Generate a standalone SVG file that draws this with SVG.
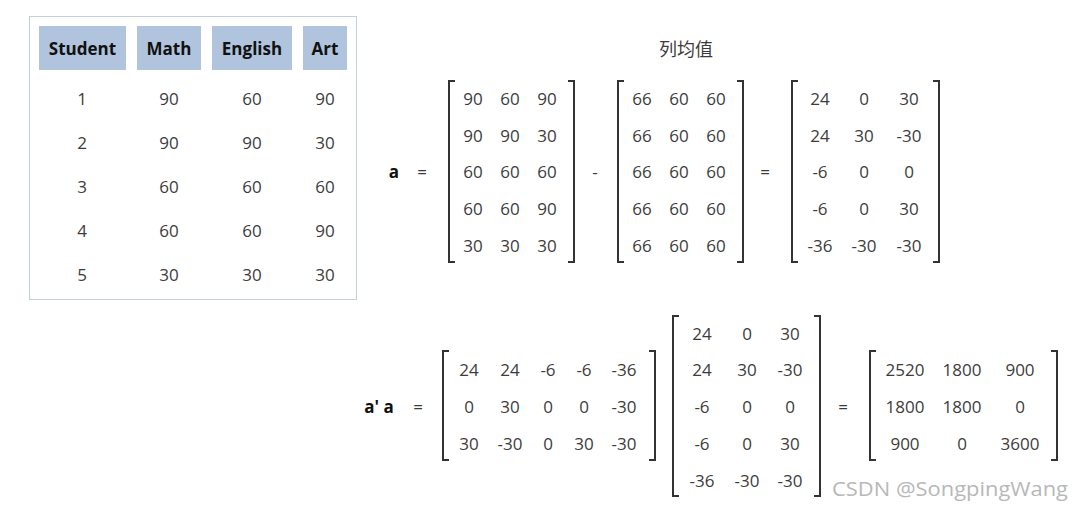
<svg xmlns="http://www.w3.org/2000/svg" width="1082" height="509" viewBox="0 0 1082 509">
<style>
text{font-family:"Open Sans","Noto Sans","DejaVu Sans",sans-serif;font-size:17px;fill:#3c3c3c;text-anchor:middle;dominant-baseline:central}
.h{font-weight:bold;fill:#111;font-size:17px}
.b{font-weight:bold;fill:#111}
.cell{fill:#b0c4de}
.br{fill:none;stroke:#333;stroke-width:2}
.wm{fill:#b8b8b8;font-size:20px}
</style>
<rect width="1082" height="509" fill="#fff"/>
<g id="table">
<rect x="29.5" y="16.5" width="327" height="283" fill="#fff" stroke="#c5cde0"/>
<rect class="cell" x="39" y="26" width="87" height="44"/>
<rect class="cell" x="137" y="26" width="64" height="44"/>
<rect class="cell" x="212" y="26" width="80" height="44"/>
<rect class="cell" x="303" y="26" width="44" height="44"/>
<text class="h" x="82.5" y="48">Student</text>
<text class="h" x="169" y="48">Math</text>
<text class="h" x="252" y="48">English</text>
<text class="h" x="325" y="48">Art</text>
<text x="82" y="98">1</text><text x="169" y="98">90</text><text x="252" y="98">60</text><text x="325" y="98">90</text>
<text x="82" y="142">2</text><text x="169" y="142">90</text><text x="252" y="142">90</text><text x="325" y="142">30</text>
<text x="82" y="186">3</text><text x="169" y="186">60</text><text x="252" y="186">60</text><text x="325" y="186">60</text>
<text x="82" y="230">4</text><text x="169" y="230">60</text><text x="252" y="230">60</text><text x="325" y="230">90</text>
<text x="82" y="274">5</text><text x="169" y="274">30</text><text x="252" y="274">30</text><text x="325" y="274">30</text>
</g>
<g id="title"><text x="686" y="48" style="font-family:'Noto Sans CJK SC',sans-serif;font-size:18px">列均值</text></g>
<g id="eq1">
<text class="b" x="394" y="171">a</text>
<text x="422" y="171">=</text>
<path class="br" d="M455 81H449V262H455M568 81H574V262H568"/>
<text x="473" y="98">90</text><text x="510" y="98">60</text><text x="547" y="98">90</text>
<text x="473" y="135">90</text><text x="510" y="135">90</text><text x="547" y="135">30</text>
<text x="473" y="171">60</text><text x="510" y="171">60</text><text x="547" y="171">60</text>
<text x="473" y="208">60</text><text x="510" y="208">60</text><text x="547" y="208">90</text>
<text x="473" y="245">30</text><text x="510" y="245">30</text><text x="547" y="245">30</text>
<text x="595" y="171">-</text>
<path class="br" d="M624 81H618V262H624M737 81H743V262H737"/>
<text x="642" y="98">66</text><text x="679" y="98">60</text><text x="716" y="98">60</text>
<text x="642" y="135">66</text><text x="679" y="135">60</text><text x="716" y="135">60</text>
<text x="642" y="171">66</text><text x="679" y="171">60</text><text x="716" y="171">60</text>
<text x="642" y="208">66</text><text x="679" y="208">60</text><text x="716" y="208">60</text>
<text x="642" y="245">66</text><text x="679" y="245">60</text><text x="716" y="245">60</text>
<text x="765" y="171">=</text>
<path class="br" d="M798 81H792V262H798M933 81H939V262H933"/>
<text x="820" y="98">24</text><text x="864" y="98">0</text><text x="909" y="98">30</text>
<text x="820" y="135">24</text><text x="864" y="135">30</text><text x="909" y="135">-30</text>
<text x="820" y="171">-6</text><text x="864" y="171">0</text><text x="909" y="171">0</text>
<text x="820" y="208">-6</text><text x="864" y="208">0</text><text x="909" y="208">30</text>
<text x="820" y="245">-36</text><text x="864" y="245">-30</text><text x="909" y="245">-30</text>
</g>
<g id="eq2">
<text class="b" x="379" y="406">a' a</text>
<text x="418" y="406">=</text>
<path class="br" d="M449 351H443V460H449M649 351H655V460H649"/>
<text x="469" y="369">24</text><text x="510" y="369">24</text><text x="548" y="369">-6</text><text x="584" y="369">-6</text><text x="624" y="369">-36</text>
<text x="469" y="406">0</text><text x="510" y="406">30</text><text x="548" y="406">0</text><text x="584" y="406">0</text><text x="624" y="406">-30</text>
<text x="469" y="443">30</text><text x="510" y="443">-30</text><text x="548" y="443">0</text><text x="584" y="443">30</text><text x="624" y="443">-30</text>
<path class="br" d="M679 316H673V496H679M814 316H820V496H814"/>
<text x="702" y="333">24</text><text x="747" y="333">0</text><text x="790" y="333">30</text>
<text x="702" y="369">24</text><text x="747" y="369">30</text><text x="790" y="369">-30</text>
<text x="702" y="406">-6</text><text x="747" y="406">0</text><text x="790" y="406">0</text>
<text x="702" y="443">-6</text><text x="747" y="443">0</text><text x="790" y="443">30</text>
<text x="702" y="480">-36</text><text x="747" y="480">-30</text><text x="790" y="480">-30</text>
<text x="843" y="406">=</text>
<path class="br" d="M876 351H870V460H876M1051 351H1057V460H1051"/>
<text x="905" y="369">2520</text><text x="962" y="369">1800</text><text x="1020" y="369">900</text>
<text x="905" y="406">1800</text><text x="962" y="406">1800</text><text x="1020" y="406">0</text>
<text x="905" y="443">900</text><text x="962" y="443">0</text><text x="1020" y="443">3600</text>
</g>
<text class="wm" x="950" y="488" textLength="236" lengthAdjust="spacingAndGlyphs">CSDN @SongpingWang</text>
</svg>
